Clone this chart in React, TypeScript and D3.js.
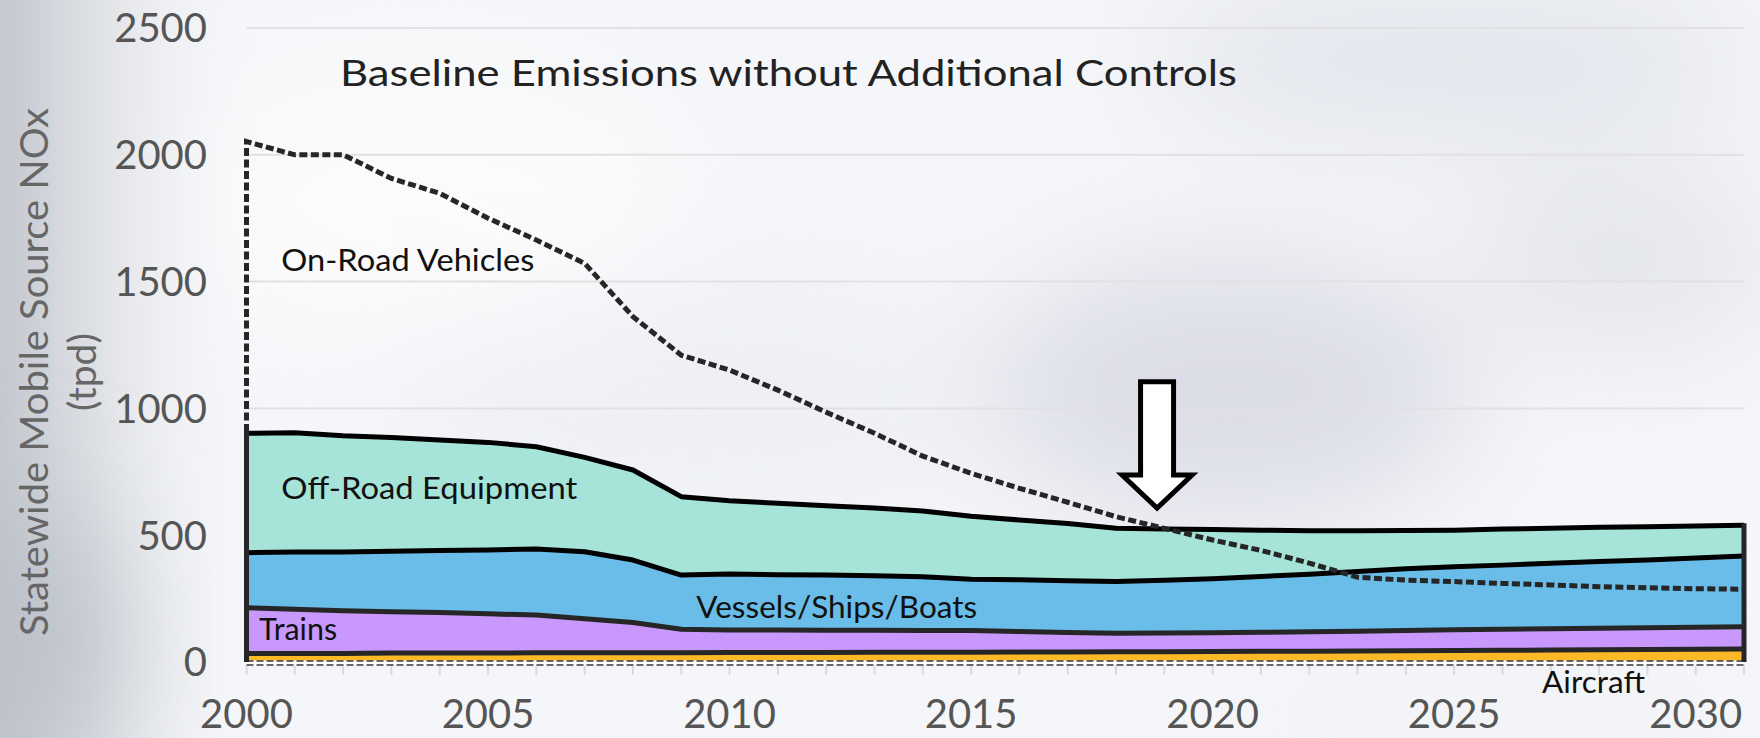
import React, { useEffect, useRef } from 'react';
import * as d3 from 'd3';

const years = [2000, 2001, 2002, 2003, 2004, 2005, 2006, 2007, 2008, 2009, 2010, 2011, 2012, 2013, 2014, 2015,
  2016, 2017, 2018, 2019, 2020, 2021, 2022, 2023, 2024, 2025, 2026, 2027, 2028, 2029, 2030, 2031];

// tpd (stacked bottom to top)
const aircraft = [34, 34, 34, 35, 35, 35, 36, 36, 36, 36, 37, 37, 37, 38, 38, 38, 39, 39, 40, 40, 41, 42, 42, 43, 44, 45, 46, 47, 48, 49, 50, 51];
const trains = [180, 174, 168, 163, 160, 155, 149, 135, 120, 93, 89, 89, 88, 87, 86, 86, 81, 77, 73, 74, 74, 75, 77, 78, 80, 82, 83, 84, 85, 86, 87, 88];
const vessels = [217, 226, 232, 239, 245, 252, 261, 264, 246, 214, 221, 218, 218, 215, 212, 202, 204, 204, 204, 208, 213, 220, 227, 236, 244, 249, 253, 258, 263, 267, 273, 279];
const offRoad = [471, 470, 458, 448, 435, 424, 403, 372, 355, 309, 289, 282, 273, 267, 259, 249, 236, 226, 210, 202, 194, 183, 172, 161, 151, 144, 142, 138, 135, 131, 126, 121];
const onRoad = [2052, 2000, 2000, 1907, 1848, 1750, 1664, 1572, 1362, 1210, 1151, 1072, 985, 902, 812, 744, 685, 630, 573, 527, 481, 440, 390, 334, 323, 317, 310, 304, 297, 293, 289, 287];

const yTicks = [0, 500, 1000, 1500, 2000, 2500];
const xTicks = [2000, 2005, 2010, 2015, 2020, 2025, 2030];

const layers = [
  { key: 'aircraft', fill: '#FDB827', line: '#262626' },
  { key: 'trains', fill: '#C998FC', line: '#262626' },
  { key: 'vessels', fill: '#69BDE8', line: '#000000' },
  { key: 'offRoad', fill: '#A6E3D8', line: '#000000' },
];

const labels = [
  { text: 'On-Road Vehicles', year: 2000.72, value: 1540, len: 253 },
  { text: 'Off-Road Equipment', year: 2000.72, value: 644, len: 296 },
  { text: 'Trains', year: 2000.26, value: 87, len: 78 },
  { text: 'Vessels/Ships/Boats', year: 2009.31, value: 172, len: 281 },
  { text: 'Aircraft', year: 2026.82, value: -122, len: 103 },
];

const W = 1760;
const H = 738;
const FONT = "Lato, 'Open Sans', sans-serif";

export default function App() {
  const svgRef = useRef<SVGSVGElement>(null);

  useEffect(() => {
    document.body.style.margin = '0';
    if (!svgRef.current) return;
    const svg = d3.select(svgRef.current);
    svg.selectAll('*').remove();

    const x = d3.scaleLinear().domain([2000, 2031]).range([246.5, 1744]);
    const y = d3.scaleLinear().domain([0, 2500]).range([662, 28]);

    // background
    const defs = svg.append('defs');
    defs.append('filter').attr('id', 'blur')
      .attr('x', '-50%').attr('y', '-50%').attr('width', '200%').attr('height', '200%')
      .append('feGaussianBlur').attr('stdDeviation', 60);
    const lg = defs.append('linearGradient').attr('id', 'leftShade').attr('x1', 0).attr('x2', 1);
    lg.append('stop').attr('offset', 0).attr('stop-color', '#c4c8cf');
    lg.append('stop').attr('offset', 0.45).attr('stop-color', '#e4e6ea');
    lg.append('stop').attr('offset', 1).attr('stop-color', '#f6f7f9').attr('stop-opacity', 0);

    svg.append('rect').attr('width', W).attr('height', H).attr('fill', '#f5f6f9');
    const bg = svg.append('g').attr('filter', 'url(#blur)');
    bg.append('ellipse').attr('cx', 1230).attr('cy', 390).attr('rx', 240).attr('ry', 130).attr('fill', '#dcdde6');
    bg.append('ellipse').attr('cx', 1450).attr('cy', 60).attr('rx', 300).attr('ry', 80).attr('fill', '#e2e5ec');
    bg.append('ellipse').attr('cx', 1620).attr('cy', 260).attr('rx', 160).attr('ry', 90).attr('fill', '#e4e6eb');
    bg.append('ellipse').attr('cx', 700).attr('cy', 400).attr('rx', 300).attr('ry', 120).attr('fill', '#eef0f5');
    bg.append('ellipse').attr('cx', 420).attr('cy', 200).attr('rx', 260).attr('ry', 140).attr('fill', '#fbfbfc');
    bg.append('ellipse').attr('cx', 1500).attr('cy', 720).attr('rx', 260).attr('ry', 60).attr('fill', '#f2f3f6');
    svg.append('rect').attr('width', 260).attr('height', H).attr('fill', 'url(#leftShade)');
    const bl = svg.append('g').attr('filter', 'url(#blur)');
    bl.append('ellipse').attr('cx', 30).attr('cy', 640).attr('rx', 90).attr('ry', 140).attr('fill', '#b9bdc5').attr('opacity', 0.8);

    // gridlines
    svg.append('g').selectAll('line').data(yTicks.filter(t => t > 0)).enter().append('line')
      .attr('x1', x(2000)).attr('x2', x(2031))
      .attr('y1', d => y(d)).attr('y2', d => y(d))
      .attr('stroke', '#e1e1e3').attr('stroke-width', 2);

    // x tick marks
    svg.append('g').selectAll('line').data(years).enter().append('line')
      .attr('x1', d => x(d)).attr('x2', d => x(d))
      .attr('y1', y(0) + 3).attr('y2', y(0) + 13)
      .attr('stroke', '#d9dadd').attr('stroke-width', 2);

    // stacked areas
    const rows = years.map((yr, i) => ({
      year: yr, aircraft: aircraft[i], trains: trains[i], vessels: vessels[i], offRoad: offRoad[i],
    }));
    const stack = d3.stack<any>().keys(layers.map(l => l.key));
    const series = stack(rows);

    const area = d3.area<any>()
      .x(d => x(d.data.year)).y0(d => y(d[0])).y1(d => y(d[1]));
    const topLine = d3.line<any>()
      .x(d => x(d.data.year)).y(d => y(d[1]));

    svg.append('g').selectAll('path').data(series).enter().append('path')
      .attr('d', d => area(d) as string)
      .attr('fill', (d, i) => layers[i].fill);

    // baseline strip
    svg.append('line').attr('x1', x(2000)).attr('x2', x(2031)).attr('y1', y(0) + 1).attr('y2', y(0) + 1)
      .attr('stroke', '#ffffff').attr('stroke-width', 5);
    [y(0) - 1, y(0) + 3].forEach(yy => {
      svg.append('line').attr('x1', x(2000)).attr('x2', x(2031)).attr('y1', yy).attr('y2', yy)
        .attr('stroke', '#3a3a3a').attr('stroke-width', 1.6).attr('stroke-dasharray', '7,3');
    });

    svg.append('g').selectAll('path').data(series).enter().append('path')
      .attr('d', d => topLine(d) as string)
      .attr('fill', 'none')
      .attr('stroke', (d, i) => layers[i].line)
      .attr('stroke-width', 5)
      .attr('stroke-linejoin', 'round');

    const top = series[series.length - 1];
    [0, top.length - 1].forEach(i => {
      svg.append('line')
        .attr('x1', x(years[i])).attr('x2', x(years[i]))
        .attr('y1', y(0)).attr('y2', y(top[i][1]) - 2)
        .attr('stroke', '#262626').attr('stroke-width', 5);
    });

    // on-road dashed line
    const onRoadLine = d3.line<[number, number]>().x(d => x(d[0])).y(d => y(d[1]));
    const pts: [number, number][] = [[2000, 0], ...years.map((yr, i) => [yr, onRoad[i]] as [number, number])];
    svg.append('path')
      .attr('d', onRoadLine(pts) as string)
      .attr('fill', 'none')
      .attr('stroke', '#262626')
      .attr('stroke-width', 5)
      .attr('stroke-dasharray', '8,3.5');

    // arrow
    const tx = x(2018.85);
    const ty = y(607);
    const headY = y(737);
    const shaftTop = y(1105);
    const arrow = [
      [tx - 16.5, shaftTop], [tx + 16.5, shaftTop], [tx + 16.5, headY], [tx + 35, headY],
      [tx, ty], [tx - 35, headY], [tx - 16.5, headY],
    ];
    svg.append('path')
      .attr('d', 'M' + arrow.map(p => p.join(',')).join('L') + 'Z')
      .attr('fill', '#ffffff').attr('stroke', '#000').attr('stroke-width', 5).attr('stroke-linejoin', 'miter');

    // series labels
    svg.append('g').selectAll('text').data(labels).enter().append('text')
      .attr('x', d => x(d.year)).attr('y', d => y(d.value))
      .attr('font-family', FONT).attr('font-size', 30).attr('fill', '#111')
      .attr('textLength', d => d.len).attr('lengthAdjust', 'spacingAndGlyphs')
      .text(d => d.text);

    // y axis labels
    svg.append('g').selectAll('text').data(yTicks).enter().append('text')
      .attr('x', 207).attr('y', d => y(d)).attr('dy', '0.36em')
      .attr('text-anchor', 'end')
      .attr('font-family', FONT).attr('font-size', 40).attr('fill', '#555')
      .text(d => String(d));

    // x axis labels
    svg.append('g').selectAll('text').data(xTicks).enter().append('text')
      .attr('x', d => x(d)).attr('y', 728)
      .attr('text-anchor', 'middle')
      .attr('font-family', FONT).attr('font-size', 40).attr('fill', '#555')
      .text(d => String(d));

    // y axis title
    const yt = svg.append('text')
      .attr('transform', 'translate(0,372) rotate(-90)')
      .attr('text-anchor', 'middle')
      .attr('font-family', FONT).attr('font-size', 39).attr('fill', '#666');
    yt.append('tspan').attr('x', 0).attr('y', 48)
      .attr('textLength', 528).attr('lengthAdjust', 'spacingAndGlyphs')
      .text('Statewide Mobile Source NOx');
    yt.append('tspan').attr('x', 0).attr('y', 96).text('(tpd)');

    // title
    svg.append('text')
      .attr('x', 340).attr('y', 86)
      .attr('font-family', FONT).attr('font-size', 36).attr('fill', '#222')
      .attr('textLength', 897).attr('lengthAdjust', 'spacingAndGlyphs')
      .text('Baseline Emissions without Additional Controls');
  }, []);

  return <svg ref={svgRef} width={W} height={H} style={{ display: 'block' }} />;
}
